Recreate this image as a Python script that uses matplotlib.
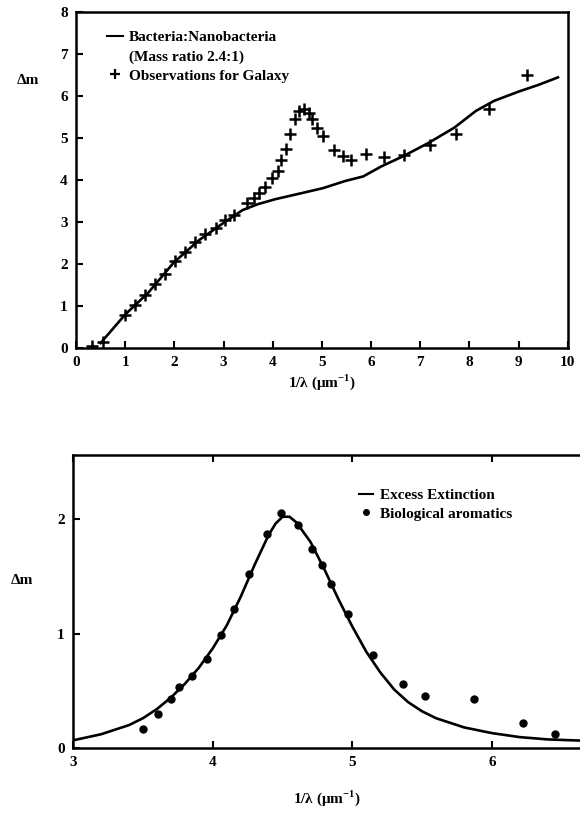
import numpy as np
import matplotlib
matplotlib.use("Agg")
import matplotlib.pyplot as plt
from matplotlib.lines import Line2D

# top panel: model curve and galaxy observations
model_x = [0.5, 1.0, 1.47, 1.99, 2.5, 3.02, 3.39, 3.7, 4.06, 4.58, 5.02, 5.47, 5.84,
           6.21, 6.65, 7.17, 7.69, 8.13, 8.5, 9.02, 9.4, 9.8]
model_y = [0.12, 0.8, 1.32, 2.04, 2.57, 3.0, 3.29, 3.43, 3.55, 3.69, 3.81, 3.98, 4.09,
           4.33, 4.57, 4.89, 5.25, 5.65, 5.89, 6.12, 6.27, 6.45]

obs_x = [0.32, 0.54, 1.0, 1.21, 1.41, 1.61, 1.81, 2.02, 2.21, 2.43, 2.63, 2.84,
         3.04, 3.21, 3.47, 3.61, 3.73, 3.84, 3.99, 4.1, 4.17, 4.27, 4.36, 4.45,
         4.54, 4.64, 4.73, 4.8, 4.91, 5.02, 5.24, 5.43, 5.6, 5.89, 6.26, 6.67,
         7.19, 7.73, 8.39, 9.17]
obs_y = [0.04, 0.14, 0.78, 1.02, 1.26, 1.52, 1.76, 2.08, 2.3, 2.53, 2.73, 2.85,
         3.05, 3.18, 3.45, 3.57, 3.69, 3.85, 4.05, 4.21, 4.47, 4.75, 5.09, 5.45,
         5.65, 5.69, 5.61, 5.45, 5.25, 5.05, 4.73, 4.57, 4.47, 4.62, 4.55, 4.61,
         4.85, 5.11, 5.69, 6.5]

# bottom panel: excess extinction and biological aromatics
ext_x = [3.0, 3.2, 3.4, 3.5, 3.6, 3.7, 3.8, 3.9, 4.0, 4.1, 4.2, 4.3, 4.4, 4.45,
         4.5, 4.55, 4.6, 4.7, 4.8, 4.9, 5.0, 5.1, 5.2, 5.3, 5.4, 5.5, 5.6, 5.8,
         6.0, 6.2, 6.4, 6.63]
ext_y = [0.067, 0.12, 0.2, 0.26, 0.34, 0.44, 0.56, 0.7, 0.87, 1.07, 1.32, 1.6,
         1.86, 1.96, 2.02, 2.02, 1.97, 1.8, 1.56, 1.3, 1.06, 0.84, 0.66, 0.51,
         0.4, 0.32, 0.26, 0.18, 0.13, 0.095, 0.075, 0.065]

aro_x = [3.5, 3.61, 3.7, 3.76, 3.85, 3.96, 4.06, 4.15, 4.26, 4.39, 4.49, 4.61,
         4.71, 4.78, 4.85, 4.97, 5.15, 5.36, 5.52, 5.87, 6.22, 6.45]
aro_y = [0.165, 0.3, 0.43, 0.53, 0.63, 0.78, 0.99, 1.21, 1.52, 1.87, 2.05, 1.95,
         1.74, 1.6, 1.43, 1.17, 0.81, 0.56, 0.45, 0.43, 0.22, 0.12]

plt.rcParams['font.family'] = ['Liberation Serif', 'DejaVu Serif']
plt.rcParams['font.weight'] = 'bold'
plt.rcParams['mathtext.fontset'] = 'custom'
plt.rcParams['mathtext.rm'] = 'Liberation Serif:bold'
plt.rcParams['mathtext.bf'] = 'Liberation Serif:bold'

fs = 11
xlabel = r'1/λ (μm$^{-1}$)'

fig = plt.figure(figsize=(5.8, 8.21), dpi=100)

# ---- top panel
ax1 = fig.add_axes([0.131, 0.576, 0.848, 0.409])
ax1.plot(model_x, model_y, color='black', lw=1.9)
ax1.plot(obs_x, obs_y, linestyle='none', marker='+', color='black', ms=8, mew=1.8)
ax1.set_xlim(0, 10)
ax1.set_ylim(0, 8)
ax1.set_xticks(range(0, 11))
ax1.set_yticks(range(0, 9))
ax1.tick_params(direction='in', length=5, width=1.5, labelsize=fs, pad=6)
for s in ax1.spines.values():
    s.set_linewidth(1.8)
ax1.set_xlabel(xlabel, fontsize=fs, fontweight='bold', labelpad=2)
fig.text(0.048, 1 - 80 / 821, 'Δm', fontsize=fs, fontweight='bold', ha='center', va='center')

h1 = [Line2D([], [], color='black', lw=1.5),
      Line2D([], [], linestyle='none'),
      Line2D([], [], linestyle='none', marker='+', color='black', ms=7, mew=1.6)]
l1 = ['Bacteria:Nanobacteria', '(Mass ratio 2.4:1)', 'Observations for Galaxy']
ax1.legend(h1, l1, loc='upper left', bbox_to_anchor=(0.064, 0.945), frameon=False,
           handlelength=1.0, handletextpad=0.4, labelspacing=0.35, borderpad=0,
           borderaxespad=0, prop={'size': fs, 'weight': 'bold'})

# ---- bottom panel
ax2 = fig.add_axes([0.126, 0.0889, 0.874, 0.357])
ax2.plot(ext_x, ext_y, color='black', lw=1.9)
ax2.plot(aro_x, aro_y, linestyle='none', marker='o', color='black', ms=5)
ax2.set_xlim(3, 6.63)
ax2.set_ylim(0, 2.56)
ax2.set_xticks([3, 4, 5, 6])
ax2.set_yticks([0, 1, 2])
ax2.tick_params(direction='in', length=5, width=1.5, labelsize=fs, pad=6,
                top=True)
ax2.spines['right'].set_visible(False)
for s in ax2.spines.values():
    s.set_linewidth(1.8)
ax2.set_xlabel(xlabel, fontsize=fs, fontweight='bold', labelpad=14)
fig.text(0.038, 1 - 580 / 821, 'Δm', fontsize=fs, fontweight='bold', ha='center', va='center')

h2 = [Line2D([], [], color='black', lw=1.5),
      Line2D([], [], linestyle='none', marker='o', color='black', ms=4)]
l2 = ['Excess Extinction', 'Biological aromatics']
ax2.legend(h2, l2, loc='upper left', bbox_to_anchor=(0.564, 0.885), frameon=False,
           handlelength=0.9, handletextpad=0.5, labelspacing=0.3, borderpad=0,
           borderaxespad=0, prop={'size': fs, 'weight': 'bold'})

fig.savefig('out.png', dpi=100)
